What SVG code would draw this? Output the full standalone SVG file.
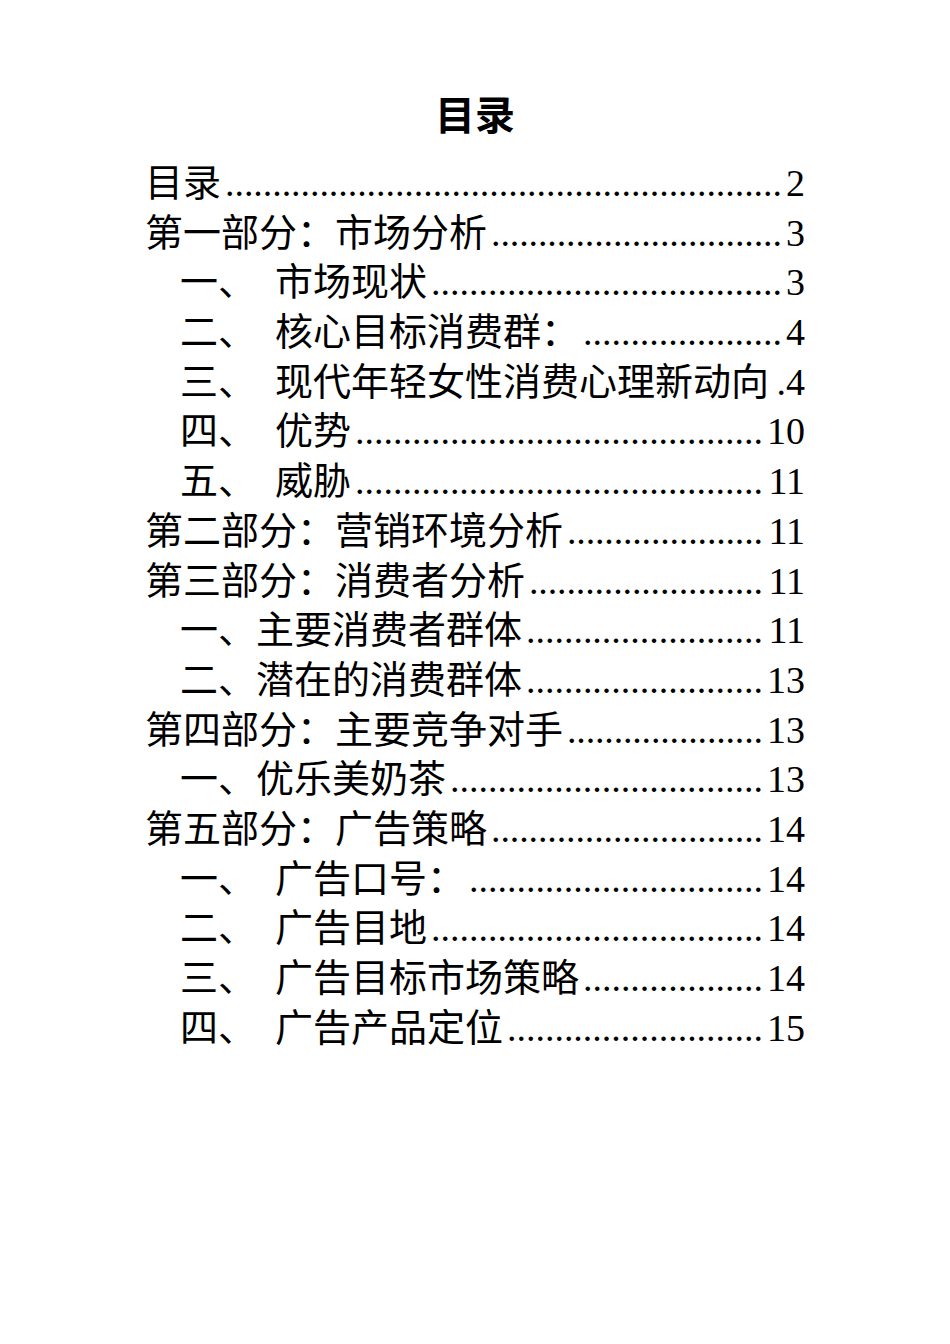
<svg xmlns="http://www.w3.org/2000/svg" width="950" height="1344" viewBox="0 0 950 1344">
<style>
text{font-family:"Liberation Serif","Noto Sans CJK SC",serif;font-size:38px;fill:#000}
.n{text-anchor:end}
.t{font-weight:bold;font-size:40px;text-anchor:middle}
</style>
<rect width="950" height="1344" fill="#fff"/>
<text class="t" x="475" y="130">目录</text>
<g id="toc">
<text x="145" y="196">目录</text><text x="225" y="196" textLength="557" lengthAdjust="spacing">...........................................................</text><text class="n" x="805" y="196">2</text>
<text x="145" y="246">第一部分：市场分析</text><text x="491" y="246" textLength="291" lengthAdjust="spacing">...............................</text><text class="n" x="805" y="246">3</text>
<text x="180" y="295">一、</text><text x="275" y="295">市场现状</text><text x="431" y="295" textLength="351" lengthAdjust="spacing">.....................................</text><text class="n" x="805" y="295">3</text>
<text x="180" y="345">二、</text><text x="275" y="345">核心目标消费群：</text><text x="583" y="345" textLength="199" lengthAdjust="spacing">.....................</text><text class="n" x="805" y="345">4</text>
<text x="180" y="395">三、</text><text x="275" y="395">现代年轻女性消费心理新动向</text><text class="n" x="805" y="395">.4</text>
<text x="180" y="444">四、</text><text x="275" y="444">优势</text><text x="355" y="444" textLength="408" lengthAdjust="spacing">...........................................</text><text class="n" x="805" y="444">10</text>
<text x="180" y="494">五、</text><text x="275" y="494">威胁</text><text x="355" y="494" textLength="408" lengthAdjust="spacing">...........................................</text><text class="n" x="805" y="494">11</text>
<text x="145" y="544">第二部分：营销环境分析</text><text x="567" y="544" textLength="196" lengthAdjust="spacing">.....................</text><text class="n" x="805" y="544">11</text>
<text x="145" y="594">第三部分：消费者分析</text><text x="529" y="594" textLength="234" lengthAdjust="spacing">.........................</text><text class="n" x="805" y="594">11</text>
<text x="180" y="643">一、主要消费者群体</text><text x="526" y="643" textLength="237" lengthAdjust="spacing">.........................</text><text class="n" x="805" y="643">11</text>
<text x="180" y="693">二、潜在的消费群体</text><text x="526" y="693" textLength="237" lengthAdjust="spacing">.........................</text><text class="n" x="805" y="693">13</text>
<text x="145" y="743">第四部分：主要竞争对手</text><text x="567" y="743" textLength="196" lengthAdjust="spacing">.....................</text><text class="n" x="805" y="743">13</text>
<text x="180" y="792">一、优乐美奶茶</text><text x="450" y="792" textLength="313" lengthAdjust="spacing">.................................</text><text class="n" x="805" y="792">13</text>
<text x="145" y="842">第五部分：广告策略</text><text x="491" y="842" textLength="272" lengthAdjust="spacing">.............................</text><text class="n" x="805" y="842">14</text>
<text x="180" y="892">一、</text><text x="275" y="892">广告口号：</text><text x="469" y="892" textLength="294" lengthAdjust="spacing">...............................</text><text class="n" x="805" y="892">14</text>
<text x="180" y="941">二、</text><text x="275" y="941">广告目地</text><text x="431" y="941" textLength="332" lengthAdjust="spacing">...................................</text><text class="n" x="805" y="941">14</text>
<text x="180" y="991">三、</text><text x="275" y="991">广告目标市场策略</text><text x="583" y="991" textLength="180" lengthAdjust="spacing">...................</text><text class="n" x="805" y="991">14</text>
<text x="180" y="1041">四、</text><text x="275" y="1041">广告产品定位</text><text x="507" y="1041" textLength="256" lengthAdjust="spacing">...........................</text><text class="n" x="805" y="1041">15</text>
</g>
</svg>
